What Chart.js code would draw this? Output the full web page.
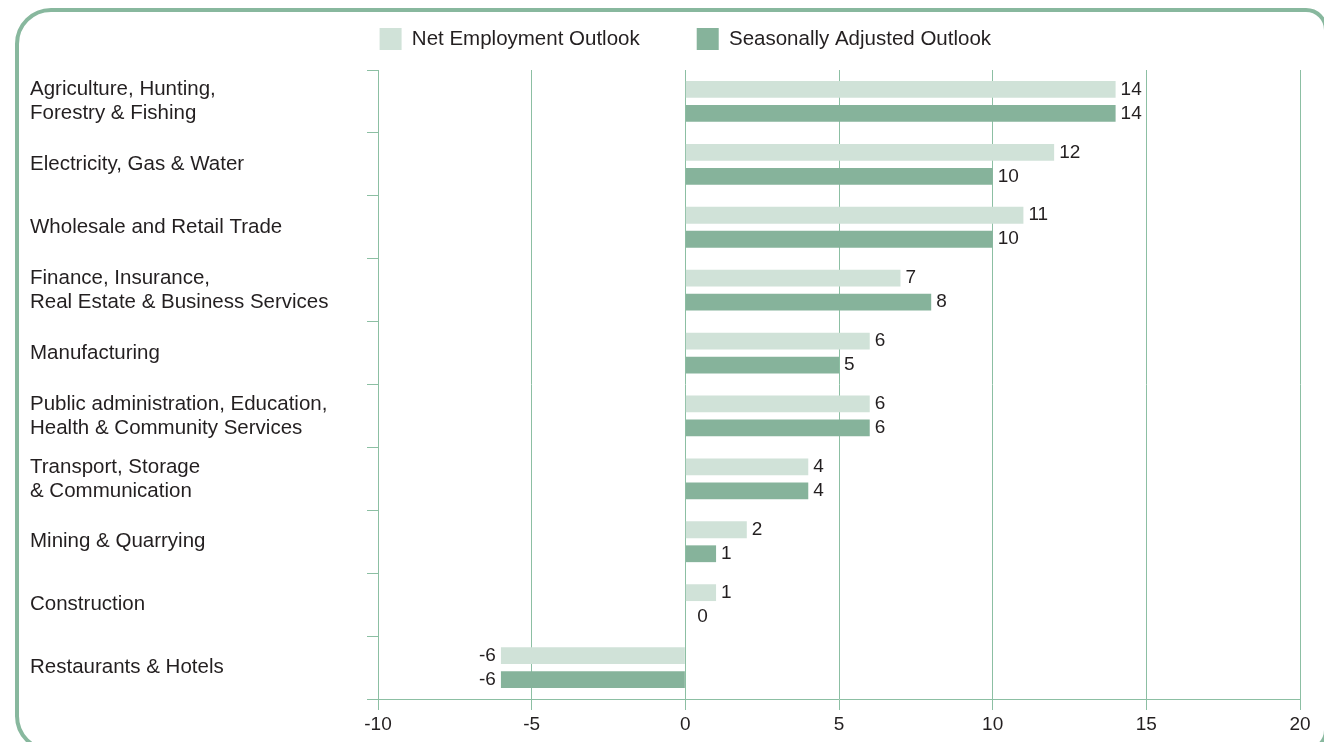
<!DOCTYPE html>
<html>
<head>
<meta charset="utf-8">
<title>Employment Outlook by Sector</title>
<script src="https://cdn.jsdelivr.net/npm/chart.js@4/dist/chart.umd.min.js"></script>
<style>
  html, body { margin: 0; padding: 0; background: #fff; overflow: hidden; }
  #frame {
    position: absolute; left: 15px; top: 8px;
    width: 1305px; height: 736px;
    border: 4px solid #88b89e;
    border-radius: 36px 22px 22px 36px;
  }
  #chart { position: absolute; left: 0; top: 0; }
</style>
</head>
<body>
<div id="frame"></div>
<canvas id="chart" width="1324" height="742"></canvas>
<script>
// data
const categories = [
  ['Agriculture, Hunting,', 'Forestry & Fishing'],
  'Electricity, Gas & Water',
  'Wholesale and Retail Trade',
  ['Finance, Insurance,', 'Real Estate & Business Services'],
  'Manufacturing',
  ['Public administration, Education,', 'Health & Community Services'],
  ['Transport, Storage', '& Communication'],
  'Mining & Quarrying',
  'Construction',
  'Restaurants & Hotels'
];
const netOutlook      = [14, 12, 11, 7, 6, 6, 4, 2, 1, -6];
const adjustedOutlook = [14, 10, 10, 8, 5, 6, 4, 1, 0, -6];
const xTicks = [-10, -5, 0, 5, 10, 15, 20];

const FONT = '"Liberation Sans", Arial, sans-serif';
const TEXT = '#231f20';
const GREEN_LINE = '#8cbfa3';

// numbers at the end of each bar
const valueLabels = {
  id: 'valueLabels',
  afterDatasetsDraw(chart) {
    const ctx = chart.ctx;
    ctx.save();
    ctx.font = '19px ' + FONT;
    ctx.fillStyle = TEXT;
    ctx.textBaseline = 'middle';
    chart.data.datasets.forEach((ds, i) => {
      const meta = chart.getDatasetMeta(i);
      meta.data.forEach((bar, j) => {
        const v = ds.data[j];
        if (v < 0) {
          ctx.textAlign = 'right';
          ctx.fillText(String(v), bar.x - 5, bar.y);
        } else {
          ctx.textAlign = 'left';
          ctx.fillText(String(v), bar.x + (v === 0 ? 12 : 5), bar.y);
        }
      });
    });
    ctx.restore();
  }
};

// legend sits centred over the zero line, near the top
const legendPlace = {
  id: 'legendPlace',
  afterLayout(chart) {
    const lg = chart.legend;
    const dx = chart.scales.x.getPixelForValue(0) - (lg.left + lg.right) / 2;
    lg.left += dx;
    lg.right += dx;
    lg.top = 28 - lg.options.labels.padding;
  }
};

new Chart(document.getElementById('chart'), {
  type: 'bar',
  data: {
    labels: categories,
    datasets: [
      {
        label: 'Net Employment Outlook',
        data: netOutlook,
        backgroundColor: '#d0e2d8',
        borderWidth: 0
      },
      {
        label: 'Seasonally Adjusted Outlook',
        data: adjustedOutlook,
        backgroundColor: '#86b39b',
        borderWidth: 0
      }
    ]
  },
  options: {
    indexAxis: 'y',
    responsive: false,
    devicePixelRatio: 1,
    animation: false,
    categoryPercentage: 0.763,
    barPercentage: 0.7,
    layout: { padding: { left: 30, right: 24, top: 0, bottom: 0 } },
    plugins: {
      legend: {
        position: 'top',
        maxHeight: 70,
        labels: {
          boxWidth: 22,
          boxHeight: 22,
          padding: 57,
          color: TEXT,
          font: { family: FONT, size: 20.5 }
        }
      },
      tooltip: { enabled: false }
    },
    scales: {
      x: {
        min: xTicks[0],
        max: xTicks[xTicks.length - 1],
        afterFit(scale) { scale.height = 43; },
        ticks: {
          stepSize: xTicks[1] - xTicks[0],
          color: TEXT,
          padding: 3,
          font: { family: FONT, size: 19 }
        },
        grid: { color: GREEN_LINE, lineWidth: 1, tickLength: 11 },
        border: { color: GREEN_LINE, width: 1 }
      },
      y: {
        afterFit(scale) { scale.width = 348; },
        ticks: {
          crossAlign: 'far',
          color: TEXT,
          font: { family: FONT, size: 20.5, lineHeight: '24px' }
        },
        grid: {
          offset: true,
          drawOnChartArea: false,
          color: GREEN_LINE,
          tickLength: 11
        },
        border: { color: GREEN_LINE, width: 1 }
      }
    }
  },
  plugins: [valueLabels, legendPlace]
});
</script>
</body>
</html>
